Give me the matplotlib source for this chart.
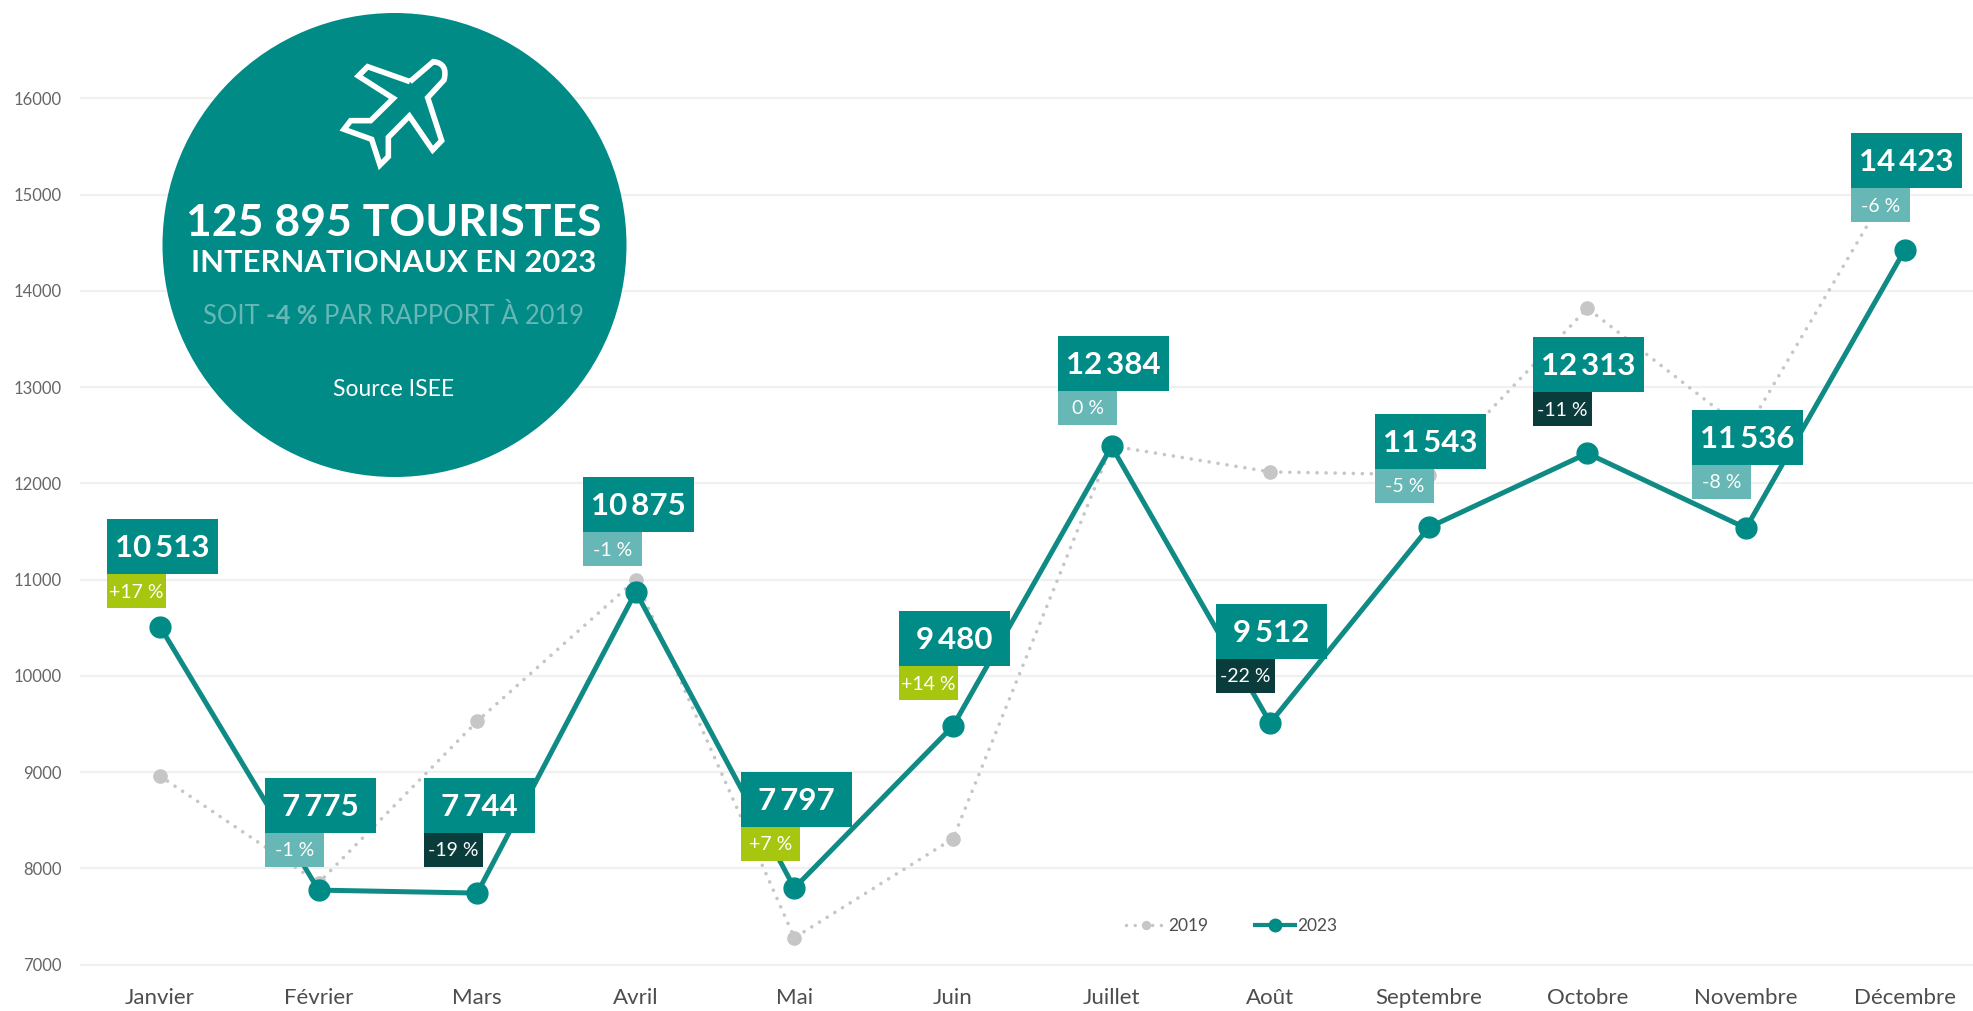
import matplotlib
matplotlib.use("Agg")
import matplotlib.pyplot as plt
from matplotlib.patches import Circle, Rectangle, PathPatch
from matplotlib.path import Path

W, H = 1974, 1011

months = ["Janvier", "Février", "Mars", "Avril", "Mai", "Juin", "Juillet",
          "Août", "Septembre", "Octobre", "Novembre", "Décembre"]
values_2019 = [8960, 7850, 9530, 11000, 7280, 8310, 12390, 12120, 12090, 13820, 12540, 15340]
values_2023 = [10513, 7775, 7744, 10875, 7797, 9480, 12384, 9512, 11543, 12313, 11536, 14423]
labels_2023 = ["10\u2009513", "7\u2009775", "7\u2009744", "10\u2009875", "7\u2009797", "9\u2009480",
               "12\u2009384", "9\u2009512", "11\u2009543", "12\u2009313", "11\u2009536", "14\u2009423"]
pct_labels = ["+17 %", "-1 %", "-19 %", "-1 %", "+7 %", "+14 %",
              "0 %", "-22 %", "-5 %", "-11 %", "-8 %", "-6 %"]
y_ticks = [7000, 8000, 9000, 10000, 11000, 12000, 13000, 14000, 15000, 16000]

# coin haut-gauche des étiquettes, en pixels
box_left = [107, 265, 424, 583, 741, 899, 1058, 1216, 1375, 1533, 1692, 1851]
box_top = [519, 778, 778, 477, 772, 611, 336, 604, 414, 337, 410, 133]

TEAL = "#008b87"
LINE = "#0f8a84"
GREY = "#c6c6c6"
GREEN = "#a6c60f"
LIGHT = "#66b7b5"
DARK = "#0a3c3b"

plt.rcParams["font.family"] = ["Lato", "DejaVu Sans"]


def pct_color(label):
    if label.startswith("+"):
        return GREEN
    if int(label.split()[0]) <= -11:
        return DARK
    return LIGHT


fig = plt.figure(figsize=(W / 100, H / 100), dpi=100, facecolor="white")

# axe principal : janvier à x=160 px, pas de 158.6 px, 7000 à y=965.7 px
left = 81
bottom = H - 964.7
ax = fig.add_axes([left / W, bottom / H, (W - left) / W, 964.7 / H])
ax.set_xlim((left - 160) / 158.6, (W - 160) / 158.6)
ax.set_ylim(7000, 7000 + 964.7 / 96.25 * 1000)
for s in ax.spines.values():
    s.set_visible(False)
ax.set_yticks(y_ticks)
ax.set_xticks(range(12))
ax.set_xticklabels(months)
ax.tick_params(axis="y", length=0, pad=14, labelsize=12, labelcolor="#666666")
ax.tick_params(axis="x", length=0, pad=17, labelsize=16, labelcolor="#4d4d4d")
ax.grid(axis="y", color="#f0f0f0", linewidth=1.6)
ax.set_axisbelow(True)
for gl in ax.get_ygridlines():
    gl.set_clip_on(False)

ax.plot(range(12), values_2019, color=GREY, linewidth=2.6, linestyle=(0, (0.01, 2.5)),
        dash_capstyle="round", marker="o", markersize=9.5, label="2019")
ax.plot(range(12), values_2023, color=LINE, linewidth=3.6,
        marker="o", markersize=15, markerfacecolor=TEAL, markeredgecolor=TEAL, label="2023")

leg = ax.legend(loc="lower left", bbox_to_anchor=(0.539, 0.007), ncol=2, frameon=False,
                fontsize=12.5, labelcolor="#4d4d4d", handlelength=2.3, columnspacing=2.7,
                handletextpad=0.15, borderaxespad=1.0, markerscale=0.6)
leg.get_lines()[0].set_linewidth(2.5)
leg.get_lines()[1].set_linewidth(3)

# calque en pixels pour les étiquettes et le disque
ov = fig.add_axes([0, 0, 1, 1], facecolor="none")
ov.set_xlim(0, W)
ov.set_ylim(H, 0)
ov.axis("off")

for i in range(12):
    x0, y0 = box_left[i], box_top[i]
    ov.add_patch(Rectangle((x0, y0), 111, 55, facecolor=TEAL, edgecolor="none"))
    ov.text(x0 + 55.5, y0 + 29, labels_2023[i], color="white", fontsize=22.5,
            fontweight="bold", ha="center", va="center")
    ov.add_patch(Rectangle((x0, y0 + 55), 59, 34, facecolor=pct_color(pct_labels[i]), edgecolor="none"))
    ov.text(x0 + 29.5, y0 + 73, pct_labels[i], color="white", fontsize=14,
            ha="center", va="center")

# disque
ov.add_patch(Circle((394.5, 245), 232, facecolor=TEAL, edgecolor="none", zorder=5))

ov.text(394, 223, "125 895 TOURISTES", color="white", fontsize=32, fontweight="bold",
        ha="center", va="center", zorder=6)
ov.text(394, 263, "INTERNATIONAUX EN 2023", color="white", fontsize=22.3, fontweight="bold",
        ha="center", va="center", zorder=6)
ov.text(394, 390, "Source ISEE", color="white", fontsize=16.5, ha="center", va="center", zorder=6)

# ligne en trois morceaux (gras au milieu)
renderer = fig.canvas.get_renderer()
x = 203
for piece, weight in [("SOIT ", "normal"), ("-4 % ", "bold"), ("PAR RAPPORT À 2019", "normal")]:
    t = ov.text(x, 316, piece.replace(" ", "\u00a0"), color="#66b7b5", fontsize=18.4, fontweight=weight,
                ha="left", va="center", zorder=6)
    x = t.get_window_extent(renderer).x1

plane = [(810, 245), (683, 200), (655, 228), (760, 295), (692, 362), (632, 362),
         (612, 388), (695, 418), (720, 495), (745, 470), (745, 412), (808, 348),
         (878, 450), (905, 422), (863, 293), (912, 240), (925, 190), (880, 185), (810, 245)]
plane_px = [(140 + px / 3, py / 3) for px, py in plane]
codes = [Path.MOVETO] + [Path.LINETO] * 15 + [Path.CURVE3, Path.LINETO, Path.LINETO]
ov.add_patch(PathPatch(Path(plane_px, codes), facecolor="none", edgecolor="white",
                       linewidth=4, joinstyle="miter", zorder=6))

fig.savefig("out.png", dpi=100)
